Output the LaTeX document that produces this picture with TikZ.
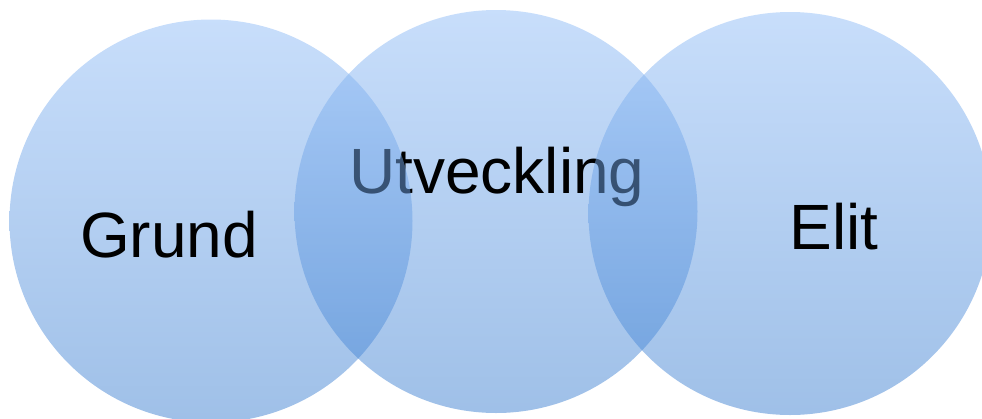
\documentclass[tikz,border=0pt]{standalone}
\usepackage{fontspec}
\setmainfont{Liberation Sans}
\definecolor{venntop}{RGB}{145,189,247}
\definecolor{vennbot}{RGB}{63,129,209}
\begin{document}
\begin{tikzpicture}[x=1pt,y=-1pt,
  venn/.style={circle, minimum size=403pt, inner sep=0pt,
    top color=venntop, bottom color=vennbot, fill opacity=0.5, draw=none},
  vennlabel/.style={anchor=base, font=\fontsize{64}{64}\selectfont, text=black}]
\useasboundingbox (0,0) rectangle (982,418);
\clip (0,0) rectangle (982,418);
% middle set first, so the outer sets tint its label where they overlap
\node[venn] (mid) at (496,211.5) {};
\node[vennlabel] (tmid) at (497,193) {Utveckling};
\node[venn] (left) at (211,221) {};
\node[venn] (right) at (790,213.5) {};
\node[vennlabel] (tleft) at (169,257) {Grund};
\node[vennlabel] (tright) at (834,249) {Elit};
\end{tikzpicture}
\end{document}
